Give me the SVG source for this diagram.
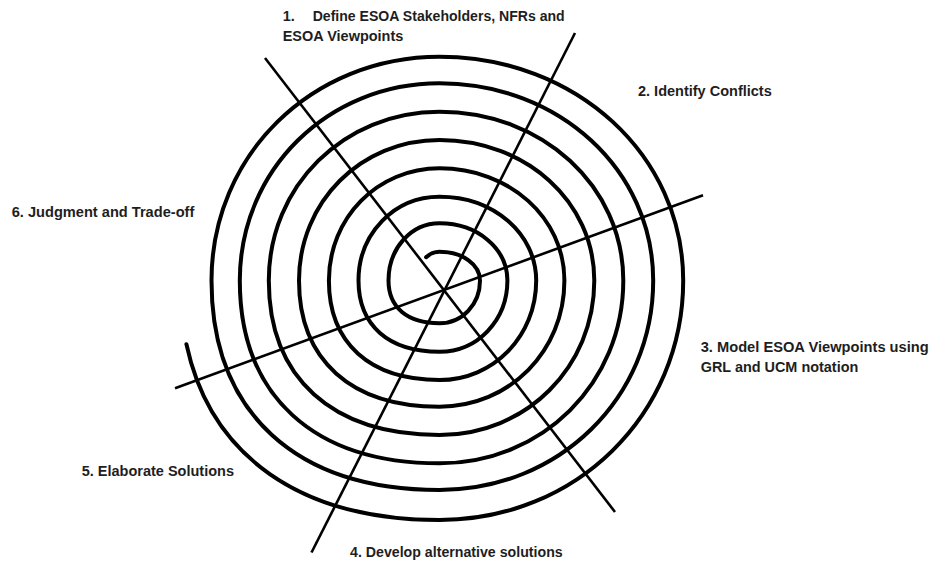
<svg xmlns="http://www.w3.org/2000/svg" width="930" height="565" viewBox="0 0 930 565">
<style>
.lbl{font-family:"Liberation Sans",Arial,sans-serif;font-weight:bold;font-size:14.5px;fill:#1e1e1e}
.spiral{fill:none;stroke:#000;stroke-width:4;stroke-linecap:round}
.axis{fill:none;stroke:#000;stroke-width:2.6}
</style>
<rect width="930" height="565" fill="#fff"/>
<g id="spiral">
<path class="spiral" d="M426.1,257.2 C429.8,253.7 434.4,251.7 439.5,251.7
C462.18,251.7 480,264.42 480,280.6 C480,304.51 462.18,323.3 439.5,323.3 C407.37,323.3 388.5,307.5 388.5,280.6 C388.5,248.51 410.94,223.3 439.5,223.3
C477.52,223.3 507.4,248.51 507.4,280.6 C507.4,320.42 477.52,351.7 439.5,351.7 C388.47,351.7 358.5,325.39 358.5,280.6 C358.5,233.62 394.14,196.7 439.5,196.7
C493.65,196.7 536.2,233.62 536.2,280.6 C536.2,336.26 493.65,380 439.5,380 C369.82,380 328.9,343.22 328.9,280.6 C328.9,217.71 377.56,168.3 439.5,168.3
C509.44,168.3 564.4,217.71 564.4,280.6 C564.4,351.22 509.44,406.7 439.5,406.7 C350.98,406.7 299,360.04 299,280.6 C299,201.86 360.82,140 439.5,140
C526.19,140 594.3,201.86 594.3,280.6 C594.3,367.06 526.19,435 439.5,435 C331.96,435 268.8,377.87 268.8,280.6 C268.8,186.02 343.91,111.7 439.5,111.7
C542.43,111.7 623.3,186.02 623.3,280.6 C623.3,382.91 542.43,463.3 439.5,463.3 C313.69,463.3 239.8,395.7 239.8,280.6 C239.8,170.11 327.67,83.3 439.5,83.3
C559.17,83.3 653.2,170.11 653.2,280.6 C653.2,397.86 559.17,490 439.5,490 C295.86,490 211.5,412.52 211.5,280.6 C211.5,155.22 311.82,56.7 439.5,56.7
C575.97,56.7 683.2,155.22 683.2,280.6 C683.2,414.66 575.97,520 439.5,520 C300.5,520 210.3,456 186.4,344.2"/>
</g>
<g id="connectors">
<line class="axis" x1="265" y1="58" x2="615" y2="512"/>
<line class="axis" x1="575" y1="33" x2="311.5" y2="552.5"/>
<line class="axis" x1="175" y1="388.3" x2="703" y2="195.3"/>
</g>
<g id="step1">
<text class="lbl" x="282.7" y="20.7">1.</text>
<text class="lbl" x="312.7" y="20.7" textLength="252" lengthAdjust="spacingAndGlyphs">Define ESOA Stakeholders, NFRs and</text>
<text class="lbl" x="282.7" y="41" textLength="120.6" lengthAdjust="spacingAndGlyphs">ESOA Viewpoints</text>
</g>
<g id="step2">
<text class="lbl" x="638" y="95.5">2. Identify Conflicts</text>
</g>
<g id="step3">
<text class="lbl" x="700.7" y="351.7" textLength="228" lengthAdjust="spacingAndGlyphs">3. Model ESOA Viewpoints using</text>
<text class="lbl" x="700.7" y="371.7" textLength="157.6" lengthAdjust="spacingAndGlyphs">GRL and UCM notation</text>
</g>
<g id="step4">
<text class="lbl" x="350" y="557.3" textLength="212.7" lengthAdjust="spacingAndGlyphs">4. Develop alternative solutions</text>
</g>
<g id="step5">
<text class="lbl" x="81.7" y="476" textLength="152.3" lengthAdjust="spacingAndGlyphs">5. Elaborate Solutions</text>
</g>
<g id="step6">
<text class="lbl" x="11.7" y="216.7" textLength="182.6" lengthAdjust="spacingAndGlyphs">6. Judgment and Trade-off</text>
</g>
</svg>
